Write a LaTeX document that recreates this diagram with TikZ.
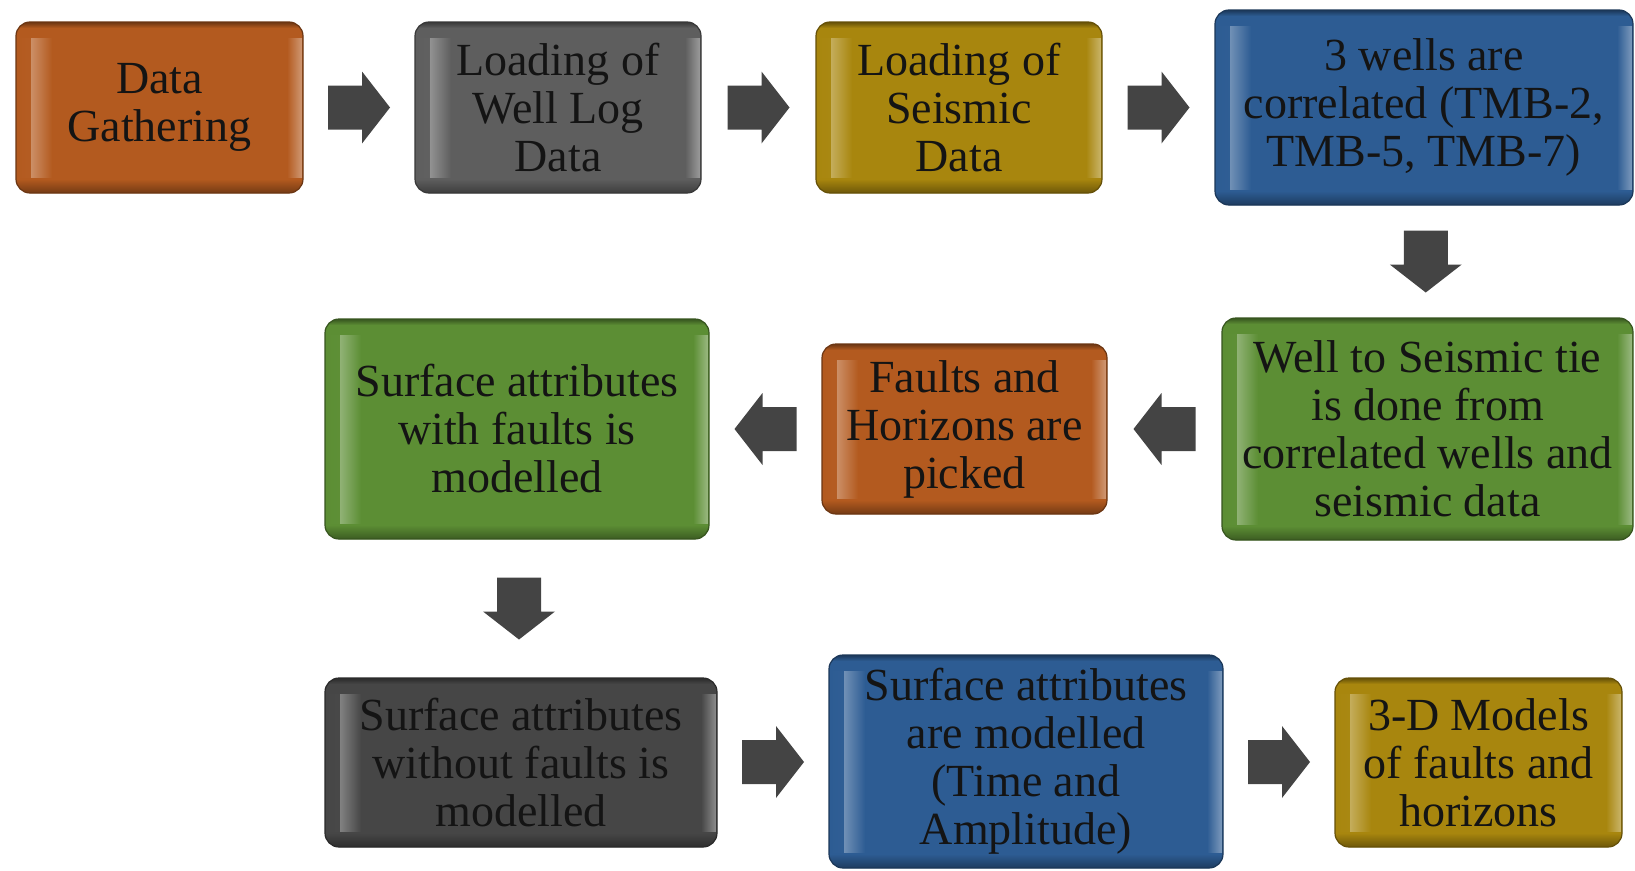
\documentclass[tikz,border=0pt]{standalone}
\usepackage{fontspec}
\setmainfont{Liberation Serif}
\usetikzlibrary{calc}

\definecolor{cOrange}{HTML}{B35A1F}
\definecolor{cGray}{HTML}{5E5E5E}
\definecolor{cGold}{HTML}{A8860E}
\definecolor{cBlue}{HTML}{2D5C93}
\definecolor{cGreen}{HTML}{5C8E34}
\definecolor{cDark}{HTML}{464646}
\definecolor{cArrow}{HTML}{444444}

\tikzset{
  % bevelled process box
  procbox/.style={
    rounded corners=14pt, fill=#1, draw=#1!60!black, line width=1.2pt,
    align=center, inner sep=0pt, text=black!92,
    font=\fontsize{46}{48}\selectfont,
    path picture={
      % lit left edge: rising then falling glow
      \shade[left color=#1, right color=#1!68!white, sharp corners]
        ([xshift=4pt,yshift=-16pt]path picture bounding box.north west)
        rectangle ([xshift=15pt,yshift=16pt]path picture bounding box.south west);
      \shade[left color=#1!68!white, right color=#1, sharp corners]
        ([xshift=15pt,yshift=-16pt]path picture bounding box.north west)
        rectangle ([xshift=36pt,yshift=16pt]path picture bounding box.south west);
      % lit right edge
      \shade[left color=#1, right color=#1!62!white, sharp corners]
        ([xshift=-16pt,yshift=-16pt]path picture bounding box.north east)
        rectangle ([xshift=-1pt,yshift=16pt]path picture bounding box.south east);
      % shaded bottom rim
      \shade[top color=#1, bottom color=#1!65!black, sharp corners]
        ([yshift=14pt]path picture bounding box.south west)
        rectangle (path picture bounding box.south east);
      % dark top rim
      \shade[top color=#1!60!black, bottom color=#1, sharp corners]
        (path picture bounding box.north west)
        rectangle ([yshift=-6pt]path picture bounding box.north east);
    }
  },
  % block arrow pointing east, centred on the origin
  blockarrow/.pic={
    \fill[cArrow] (-31,-22) -- (3,-22) -- (3,-36) -- (31,0) -- (3,36) -- (3,22) -- (-31,22) -- cycle;
  },
}

\begin{document}
\begin{tikzpicture}[x=1pt,y=1pt]
\useasboundingbox (0,0) rectangle (1635,-870);

% first row
\node[procbox=cOrange, minimum width=287, minimum height=171] (gather) at (159.5,-107.5) {Data\\Gathering};
\node[procbox=cGray, minimum width=286, minimum height=171] (welllog) at (558,-107.5) {Loading of\\Well Log\\Data};
\node[procbox=cGold, minimum width=286, minimum height=171] (seismic) at (959,-107.5) {Loading of\\Seismic\\Data};
\node[procbox=cBlue, minimum width=418, minimum height=195] (wells) at (1424,-107.5) {3 wells are\\correlated (TMB-2,\\TMB-5, TMB-7)};

% second row
\node[procbox=cGreen, minimum width=411, minimum height=222] (tie) at (1427.5,-429) {Well to Seismic tie\\is done from\\correlated wells and\\seismic data};
\node[procbox=cOrange, minimum width=285, minimum height=170] (faults) at (964.5,-429) {Faults and\\Horizons are\\picked};
\node[procbox=cGreen, minimum width=384, minimum height=220] (withf) at (517,-429) {Surface attributes\\with faults is\\modelled};

% third row
\node[procbox=cDark, minimum width=392, minimum height=169] (withoutf) at (521,-762.5) {Surface attributes\\without faults is\\modelled};
\node[procbox=cBlue, minimum width=394, minimum height=213] (attr) at (1026,-761.5) {Surface attributes\\are modelled\\(Time and\\Amplitude)};
\node[procbox=cGold, minimum width=287, minimum height=169] (models) at (1478.5,-762.5) {3-D Models\\of faults and\\horizons};

% connectors
\pic at ($(gather.east)!0.5!(welllog.west)$) {blockarrow};
\pic at ($(welllog.east)!0.5!(seismic.west)$) {blockarrow};
\pic at ($(seismic.east)!0.5!(wells.west)$) {blockarrow};
\pic[rotate=-90] at ($(wells.south)!0.5!(tie.north)$) {blockarrow};
\pic[rotate=180] at ($(tie.west)!0.5!(faults.east)$) {blockarrow};
\pic[rotate=180] at ($(faults.west)!0.5!(withf.east)$) {blockarrow};
\pic[rotate=-90] at ($(withf.south)!0.5!(withoutf.north)$) {blockarrow};
\pic at ($(withoutf.east)!0.5!(attr.west)$) {blockarrow};
\pic at ($(attr.east)!0.5!(models.west)$) {blockarrow};
\end{tikzpicture}
\end{document}
